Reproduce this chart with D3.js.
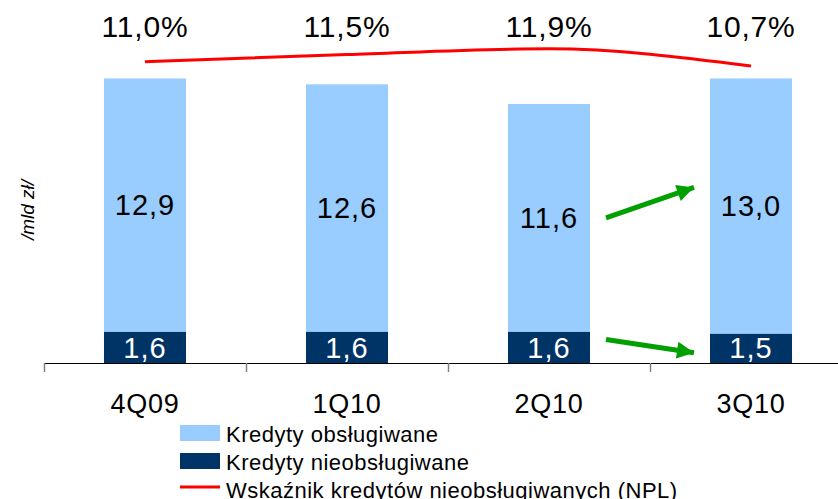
<!DOCTYPE html>
<head>
  <meta charset="utf-8">
  <script src="https://d3js.org/d3.v7.min.js"></script>
  <style>
    body { margin: 0; background: #fff; }
    svg { display: block; }
    text { font-family: "Liberation Sans", Arial, sans-serif; }
  </style>
</head>

<body>
  <svg width="838" height="499"></svg>
  <script>
    // dane
    var kwartaly = ['4Q09', '1Q10', '2Q10', '3Q10'];
    var obslugiwane = [12.9, 12.6, 11.6, 13.0];     // mld zł
    var nieobslugiwane = [1.6, 1.6, 1.6, 1.5];      // mld zł
    var npl = [11.0, 11.5, 11.9, 10.7];             // %
    var legendaNazwy = ['Kredyty obsługiwane', 'Kredyty nieobsługiwane', 'Wskaźnik kredytów nieobsługiwanych (NPL)'];
    // strzałki (od 2Q10 do 3Q10), w jednostkach osi mld zł
    var strzalki = [{from: 7.4, to: 9.0}, {from: 1.2, to: 0.5}];

    var width = 838, height = 499;
    var margin = {top: 49, bottom: 136, left: 44, right: -14};
    var kolorJasny = '#99ccff', kolorCiemny = '#003366', kolorNpl = '#ff0000', kolorStrzalki = '#00a000';

    var fmt = v => d3.format('.1f')(v).replace('.', ',');

    var svg = d3.select('svg');

    // skale
    var xScale = d3.scaleBand()
      .domain(kwartaly)
      .range([margin.left, width - margin.right])
      .paddingInner(0.594)
      .paddingOuter(0.297);

    var yScale = d3.scaleLinear()
      .domain([0, 16])
      .range([height - margin.bottom, margin.top]);

    // druga oś (NPL), niewidoczna
    var y2Scale = d3.scaleLinear()
      .domain([10, 13])
      .range([76, 33]);

    var dane = kwartaly.map((k, i) => ({k: k, ob: obslugiwane[i], nie: nieobslugiwane[i], npl: npl[i]}));
    var bw = xScale.bandwidth();

    // słupki - nieobsługiwane (dół)
    svg.append('g').selectAll('rect')
      .data(dane).enter().append('rect')
      .attr('x', d => xScale(d.k))
      .attr('width', bw)
      .attr('y', d => yScale(d.nie))
      .attr('height', d => yScale(0) - yScale(d.nie))
      .attr('fill', kolorCiemny);

    // słupki - obsługiwane (góra)
    svg.append('g').selectAll('rect')
      .data(dane).enter().append('rect')
      .attr('x', d => xScale(d.k))
      .attr('width', bw)
      .attr('y', d => yScale(d.nie + d.ob))
      .attr('height', d => yScale(d.nie) - yScale(d.nie + d.ob))
      .attr('fill', kolorJasny);

    // etykiety słupków
    svg.append('g').selectAll('text')
      .data(dane).enter().append('text')
      .attr('x', d => xScale(d.k) + bw / 2)
      .attr('y', d => (yScale(d.nie) + yScale(d.nie + d.ob)) / 2 + 10)
      .attr('text-anchor', 'middle')
      .style('font-size', '29px')
      .style('letter-spacing', '1px')
      .text(d => fmt(d.ob));

    svg.append('g').selectAll('text')
      .data(dane).enter().append('text')
      .attr('x', d => xScale(d.k) + bw / 2)
      .attr('y', d => yScale(0) - 5)
      .attr('text-anchor', 'middle')
      .attr('fill', '#fff')
      .style('font-size', '29px')
      .style('letter-spacing', '1px')
      .text(d => fmt(d.nie));

    // oś x
    var os = svg.append('g');
    os.append('line')
      .attr('x1', margin.left).attr('x2', width)
      .attr('y1', yScale(0) + 0.5).attr('y2', yScale(0) + 0.5)
      .attr('stroke', '#000');
    os.selectAll('.tick')
      .data(kwartaly).enter().append('line')
      .attr('x1', d => Math.round(xScale(d) - xScale.step() * xScale.paddingOuter()) + 0.5)
      .attr('x2', d => Math.round(xScale(d) - xScale.step() * xScale.paddingOuter()) + 0.5)
      .attr('y1', yScale(0)).attr('y2', yScale(0) + 9)
      .attr('stroke', '#808080').attr('stroke-width', 1.5);
    os.selectAll('text')
      .data(kwartaly).enter().append('text')
      .attr('x', d => xScale(d) + bw / 2)
      .attr('y', yScale(0) + 50)
      .attr('text-anchor', 'middle')
      .style('font-size', '27px')
      .style('letter-spacing', '0.8px')
      .text(d => d);

    // opis osi y
    svg.append('text')
      .attr('transform', 'translate(34,210) rotate(-90)')
      .attr('text-anchor', 'middle')
      .style('font-size', '19px')
      .style('font-style', 'italic')
      .text('/mld zł/');

    // linia NPL
    var liniaNpl = d3.line()
      .x(d => xScale(d.k) + bw / 2)
      .y(d => y2Scale(d.npl))
      .curve(d3.curveMonotoneX);

    svg.append('path')
      .attr('d', liniaNpl(dane))
      .attr('fill', 'none')
      .attr('stroke', kolorNpl)
      .attr('stroke-width', 3);

    svg.append('g').selectAll('text')
      .data(dane).enter().append('text')
      .attr('x', d => xScale(d.k) + bw / 2)
      .attr('y', 37)
      .attr('text-anchor', 'middle')
      .style('font-size', '30px')
      .style('letter-spacing', '0.8px')
      .text(d => fmt(d.npl) + '%');

    // strzałki
    svg.append('defs').append('marker')
      .attr('id', 'grot')
      .attr('viewBox', '0 0 10 10')
      .attr('refX', 10).attr('refY', 5)
      .attr('markerWidth', 3.6).attr('markerHeight', 3.4)
      .attr('markerUnits', 'strokeWidth')
      .attr('orient', 'auto')
      .append('path').attr('d', 'M0,0L10,5L0,10Z').attr('fill', kolorStrzalki);

    var xOd = xScale('2Q10') + bw + 16, xDo = xScale('3Q10') - 12;
    svg.append('g').selectAll('line')
      .data(strzalki).enter().append('line')
      .attr('x1', xOd).attr('y1', d => yScale(d.from))
      .attr('x2', xDo - 4).attr('y2', d => yScale(d.to) + (d.to > d.from ? 1 : -0.5))
      .attr('stroke', kolorStrzalki)
      .attr('stroke-width', 5)
      .attr('marker-end', 'url(#grot)');

    // legenda
    var leg = svg.append('g').attr('transform', 'translate(180,425)');
    var kolory = [kolorJasny, kolorCiemny, kolorNpl];
    legendaNazwy.forEach((n, i) => {
      var g = leg.append('g').attr('transform', 'translate(0,' + i * 28 + ')');
      if (i < 2) {
        g.append('rect').attr('width', 40).attr('height', 16).attr('fill', kolory[i]);
      } else {
        g.append('line').attr('x1', 0).attr('x2', 40).attr('y1', 6).attr('y2', 6)
          .attr('stroke', kolory[i]).attr('stroke-width', 3);
      }
      g.append('text')
        .attr('x', 46).attr('y', 17)
        .style('font-size', '22px')
        .style('letter-spacing', '0.5px')
        .text(n);
    });
  </script>
</body>
